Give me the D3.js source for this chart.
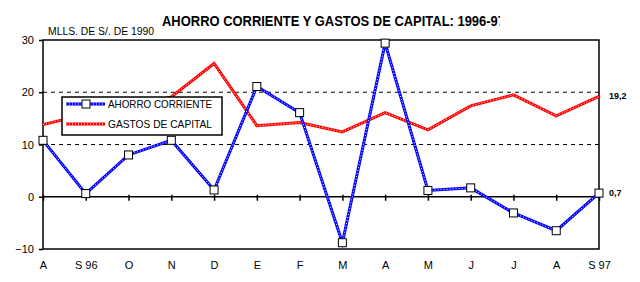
<!DOCTYPE html>
<html>
<head>
<meta charset="utf-8">
<script src="https://cdn.jsdelivr.net/npm/d3@7"></script>
<style>
  body { margin: 0; background: #fff; }
  text { font-family: "Liberation Sans", Arial, sans-serif; fill: #000; }
</style>
</head>
<body>
<div id="chart"></div>
<script>
var meses = ["A", "S 96", "O", "N", "D", "E", "F", "M", "A", "M", "J", "J", "A", "S 97"];
var ahorro = [10.8, 0.6, 8.0, 10.8, 1.3, 21.1, 16.1, -8.8, 29.4, 1.2, 1.7, -3.1, -6.5, 0.7];
var gastos = [13.8, 15.8, 16.8, 19.1, 25.5, 13.6, 14.2, 12.4, 16.1, 12.8, 17.4, 19.5, 15.5, 19.2];
var yTicks = [-10, 0, 10, 20, 30];
var gridVals = [10, 20];

var width = 640, height = 282;
var margin = {top: 40, right: 41, bottom: 33, left: 43};

var svg = d3.select("#chart").append("svg")
    .attr("width", width)
    .attr("height", height);

var x = d3.scalePoint()
    .domain(d3.range(meses.length))
    .range([margin.left, width - margin.right]);

var y = d3.scaleLinear()
    .domain([-10, 30])
    .range([height - margin.bottom, margin.top]);

// title (clipped like the original)
svg.append("clipPath").attr("id", "tclip")
  .append("rect").attr("x", 0).attr("y", 0).attr("width", 500).attr("height", 40);

svg.append("text")
    .attr("clip-path", "url(#tclip)")
    .attr("x", 162).attr("y", 26)
    .attr("textLength", 343)
    .attr("lengthAdjust", "spacingAndGlyphs")
    .style("font-size", "14px")
    .style("font-weight", "bold")
    .text("AHORRO CORRIENTE Y GASTOS DE CAPITAL: 1996-97");

svg.append("text")
    .attr("x", 48).attr("y", 35)
    .attr("textLength", 106)
    .attr("lengthAdjust", "spacingAndGlyphs")
    .style("font-size", "10px")
    .text("MLLS. DE S/. DE 1990");

// dashed grid lines
svg.selectAll(".grid")
    .data(gridVals)
    .enter().append("line")
    .attr("x1", x.range()[0]).attr("x2", x.range()[1])
    .attr("y1", d => y(d)).attr("y2", d => y(d))
    .attr("stroke", "#000")
    .attr("stroke-dasharray", "4,4");

// frame
svg.append("rect")
    .attr("x", x.range()[0]).attr("y", y(30))
    .attr("width", x.range()[1] - x.range()[0])
    .attr("height", y(-10) - y(30))
    .attr("fill", "none")
    .attr("stroke", "#000")
    .attr("stroke-width", 1.5);

// y axis
var yAxis = svg.append("g")
    .attr("transform", "translate(" + x.range()[0] + ",0)")
    .call(d3.axisLeft(y).tickValues(yTicks).tickSize(4).tickPadding(5));
yAxis.select(".domain").remove();
yAxis.selectAll("line").attr("stroke-width", 1.5);
yAxis.selectAll("text").style("font-size", "11px").style("font-family", "Liberation Sans, Arial, sans-serif");

// zero line with ticks
svg.append("line")
    .attr("x1", x.range()[0]).attr("x2", x.range()[1])
    .attr("y1", y(0)).attr("y2", y(0))
    .attr("stroke", "#000").attr("stroke-width", 1.5);

var xAxis = svg.append("g")
    .attr("transform", "translate(0," + (y(0) - 2) + ")")
    .call(d3.axisBottom(x).tickSize(6).tickFormat(""));
xAxis.select(".domain").remove();
xAxis.selectAll("line").attr("stroke-width", 1.5);

// month labels
var xLab = svg.append("g")
    .attr("transform", "translate(0," + y(-10) + ")")
    .call(d3.axisBottom(x).tickSize(0).tickPadding(12).tickFormat(i => meses[i]));
xLab.select(".domain").remove();
xLab.selectAll("text").style("font-size", "11px").style("font-family", "Liberation Sans, Arial, sans-serif");

var line = d3.line()
    .x((d, i) => x(i))
    .y(d => y(d));

function drawSeries(vals, color) {
  svg.append("path")
      .attr("d", line(vals))
      .attr("fill", "none")
      .attr("stroke", color)
      .attr("stroke-width", 3);
  svg.append("path")
      .attr("d", line(vals))
      .attr("fill", "none")
      .attr("stroke", "#fff")
      .attr("stroke-width", 1)
      .attr("stroke-dasharray", "1,2");
}

drawSeries(gastos, "#ff0000");
drawSeries(ahorro, "#0000ff");

// markers
svg.selectAll(".mk")
    .data(ahorro)
    .enter().append("rect")
    .attr("x", (d, i) => x(i) - 4)
    .attr("y", d => y(d) - 4)
    .attr("width", 8).attr("height", 8)
    .attr("fill", "#fff")
    .attr("stroke", "#000")
    .attr("stroke-width", 1);

// end labels
var last = meses.length - 1;
svg.append("text")
    .attr("x", x(last) + 10).attr("y", y(gastos[last]) + 3)
    .style("font-size", "9px").style("font-weight", "bold")
    .text(String(gastos[last]).replace(".", ","));
svg.append("text")
    .attr("x", x(last) + 10).attr("y", y(ahorro[last]) + 3)
    .style("font-size", "9px").style("font-weight", "bold")
    .text(String(ahorro[last]).replace(".", ","));

// legend
var lg = svg.append("g");
lg.append("rect")
    .attr("x", 62).attr("y", 97)
    .attr("width", 160).attr("height", 38)
    .attr("fill", "#fff")
    .attr("stroke", "#000")
    .attr("stroke-width", 1.5);

var legendItems = [
  {name: "AHORRO CORRIENTE", color: "#0000ff", marker: true},
  {name: "GASTOS DE CAPITAL", color: "#ff0000", marker: false}
];
legendItems.forEach(function(it, k) {
  var yy = 104 + k * 20;
  lg.append("line").attr("x1", 66).attr("x2", 105).attr("y1", yy).attr("y2", yy)
      .attr("stroke", it.color).attr("stroke-width", 3);
  lg.append("line").attr("x1", 66).attr("x2", 105).attr("y1", yy).attr("y2", yy)
      .attr("stroke", "#fff").attr("stroke-width", 1).attr("stroke-dasharray", "1,2");
  if (it.marker) {
    lg.append("rect").attr("x", 82).attr("y", yy - 4).attr("width", 8).attr("height", 8)
        .attr("fill", "#fff").attr("stroke", "#000");
  }
  lg.append("text")
      .attr("x", 108).attr("y", yy + 4)
      .attr("textLength", 104)
      .attr("lengthAdjust", "spacingAndGlyphs")
      .style("font-size", "10.5px")
      .text(it.name);
});
</script>
</body>
</html>
